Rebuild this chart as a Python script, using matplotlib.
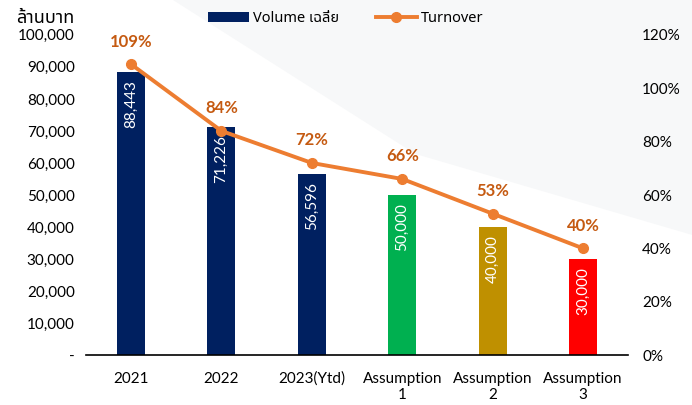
import matplotlib
matplotlib.use("Agg")
import matplotlib.pyplot as plt
from matplotlib.patches import Polygon
from matplotlib.ticker import FuncFormatter

# data
categories = ["2021", "2022", "2023(Ytd)", "Assumption\n1", "Assumption\n2", "Assumption\n3"]
volume = [88443, 71226, 56596, 50000, 40000, 30000]
turnover = [1.09, 0.84, 0.72, 0.66, 0.53, 0.40]
bar_colors = ["#002060", "#002060", "#002060", "#00B050", "#BF9000", "#FF0000"]

FONTS = ['Lato', 'Noto Sans', 'DejaVu Sans']
THAI = ['Noto Sans Thai', 'Noto Sans', 'DejaVu Sans']
plt.rcParams['font.family'] = FONTS

fig = plt.figure(figsize=(6.92, 4.05), dpi=100)
fig.patch.set_facecolor("white")
# faint grey wash in the upper right like the slide background
bg = Polygon([[0.25, 1.0], [1.0, 1.0], [1.0, 0.42], [0.6, 0.62]], closed=True,
             transform=fig.transFigure, facecolor="#F7F8F9", edgecolor="none", zorder=-5)
fig.patches.append(bg)

ax = fig.add_axes([0.124, 0.123, 0.784, 0.791])
ax.patch.set_alpha(0)
x = list(range(len(categories)))
bars = ax.bar(x, volume, width=0.31, color=bar_colors, zorder=2)
ax.set_ylim(0, 100000)
ax.set_xlim(-0.5, len(categories) - 0.5)
ax.set_yticks(range(0, 100001, 10000))
ax.yaxis.set_major_formatter(FuncFormatter(lambda v, p: "-" if v == 0 else f"{int(v):,}"))
ax.set_xticks(x)
ax.set_xticklabels(categories, fontsize=11)
ax.tick_params(axis="both", length=0, labelsize=11, pad=8)
ax.tick_params(axis="x", pad=12)
for s in ["top", "right", "left"]:
    ax.spines[s].set_visible(False)
ax.spines["bottom"].set_linewidth(1.2)

for xi, v in zip(x, volume):
    ax.text(xi, v - 2500, f"{v:,}", rotation=90, ha="center", va="top",
            color="white", fontsize=11, zorder=3)

ax2 = ax.twinx()
ax2.set_ylim(0, 1.2)
ax2.set_yticks([i / 10 for i in range(0, 13, 2)])
ax2.yaxis.set_major_formatter(FuncFormatter(lambda v, p: f"{v * 100:.0f}%"))
ax2.tick_params(axis="y", length=0, labelsize=11, pad=10)
for s in ax2.spines.values():
    s.set_visible(False)
line, = ax2.plot(x, turnover, color="#ED7D31", lw=2.8, marker="o", ms=7, zorder=4)
for xi, t in zip(x, turnover):
    ax2.text(xi, t + 0.055, f"{t * 100:.0f}%", ha="center", va="bottom",
             color="#C55A11", fontsize=12, fontweight="bold")

fig.text(0.065, 0.955, "ล้านบาท", ha="center", va="center", fontsize=13, family=THAI)
fig.legend([bars, line], ["Volume เฉลี่ย", "Turnover"], loc="center",
           bbox_to_anchor=(0.5, 0.955), ncol=2, frameon=False,
           handlelength=2.8, columnspacing=2.5, handletextpad=0.3,
           prop={'family': THAI, 'size': 10.5})

fig.savefig("out.png", dpi=100)
